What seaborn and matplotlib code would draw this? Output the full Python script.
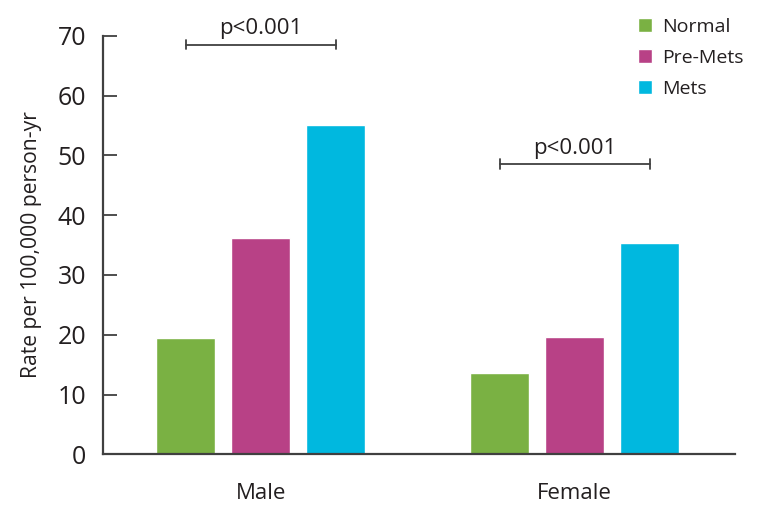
import pandas as pd
import matplotlib
matplotlib.use('Agg')
import matplotlib.pyplot as plt
import seaborn as sns

sns.set_style('white')
plt.rcParams['font.family'] = ['Open Sans', 'DejaVu Sans']

# data
sexes = ['Male', 'Female']
groups = ['Normal', 'Pre-Mets', 'Mets']
normal = [19.5, 13.6]
pre_mets = [36.2, 19.6]
mets = [55.1, 35.4]
colors = ['#7AB143', '#B84186', '#00B8DF']
p_labels = ['p<0.001', 'p<0.001']
bracket_y = [68.5, 48.5]

df = pd.DataFrame({
    'sex': sexes * 3,
    'group': [g for g in groups for _ in sexes],
    'rate': normal + pre_mets + mets,
})

ink = '#231f20'
fig = plt.figure(figsize=(7.58, 5.16), dpi=100)
ax = fig.add_axes([103 / 758, 1 - 454.3 / 516, 632 / 758, 418.6 / 516])

sns.barplot(data=df, x='sex', y='rate', hue='group', order=sexes, hue_order=groups,
            palette=colors, width=0.717, gap=0.21, saturation=1, ax=ax, legend=True)

ax.set_xlim(-0.502, 1.511)
ax.set_ylim(0, 70)
ax.set_yticks(range(0, 71, 10))
ax.set_xlabel('')
ax.set_ylabel('Rate per 100,000 person-yr', fontsize=15.2, color=ink, labelpad=11)
ax.tick_params(axis='y', direction='in', length=10, width=1.3, color='#404040',
               labelsize=18, labelcolor=ink, pad=12, left=True)
ax.tick_params(axis='x', length=0, labelsize=16, labelcolor=ink, pad=21)
sns.despine(ax=ax)
for s in ['left', 'bottom']:
    ax.spines[s].set_color('#404040')
    ax.spines[s].set_linewidth(1.6)

# significance brackets from Normal bar centre to Mets bar centre
slot = 0.717 / 3
for i, (lab, yb) in enumerate(zip(p_labels, bracket_y)):
    x0, x1 = i - slot, i + slot
    ax.plot([x0, x1], [yb, yb], color='#404040', lw=1.3, clip_on=False)
    for xx in (x0, x1):
        ax.plot([xx, xx], [yb - 0.8, yb + 0.8], color='#404040', lw=1.3, clip_on=False)
    ax.text(i, yb + 0.9, lab, ha='center', va='bottom', fontsize=16, color=ink)

leg = ax.legend(loc='upper left', bbox_to_anchor=(0.846, 1.043), frameon=False,
                fontsize=14, handlelength=0.75, handleheight=0.75, handletextpad=0.5,
                labelspacing=0.68, borderaxespad=0, borderpad=0)
for t in leg.get_texts():
    t.set_color(ink)

fig.savefig('out.png', dpi=100)
